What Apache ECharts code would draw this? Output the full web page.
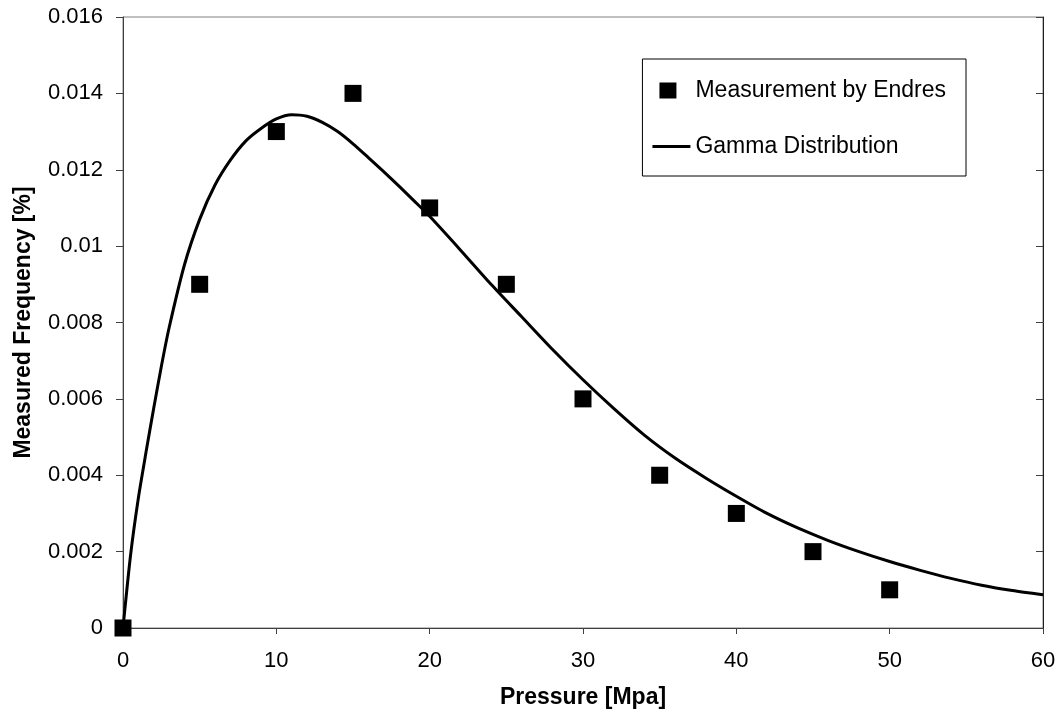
<!DOCTYPE html>
<html>
<head>
<meta charset="utf-8">
<script src="https://cdn.jsdelivr.net/npm/echarts@6/dist/echarts.min.js"></script>
<style>
html,body{margin:0;padding:0;background:#fff;}
#chart{width:1060px;height:719px;}
</style>
</head>
<body>
<div id="chart"></div>
<script>
// Measured points
const measX = [0, 5, 10, 15, 20, 25, 30, 35, 40, 45, 50];
const measY = [0, 0.009, 0.013, 0.014, 0.011, 0.009, 0.006, 0.004, 0.003, 0.002, 0.001];
// Gamma distribution curve
const gammaX = [0, 0.5, 1, 1.5, 2, 2.5, 3, 4, 5, 6, 7, 8, 9, 10, 11, 12, 13, 14, 15, 16, 17, 18, 19, 20, 22, 24, 26, 28, 30, 32, 34, 36, 38, 40, 42, 44, 46, 48, 50, 52, 54, 56, 58, 60];
const gammaY = [0, 0.00193, 0.0034, 0.0046, 0.00575, 0.00685, 0.00785, 0.0095, 0.0107, 0.0116, 0.01225, 0.01275, 0.01308, 0.01333, 0.01344, 0.0134, 0.01324, 0.0130, 0.01268, 0.01232, 0.01195, 0.01157, 0.01118, 0.01078, 0.0099, 0.0090, 0.00815, 0.0073, 0.0065, 0.00575, 0.00505, 0.00445, 0.00393, 0.00345, 0.0030, 0.00262, 0.00229, 0.0020, 0.00174, 0.00151, 0.0013, 0.00112, 0.00098, 0.00087];
const seriesNames = ['Measurement by Endres', 'Gamma Distribution'];
const xTitle = 'Pressure [Mpa]';
const yTitle = 'Measured Frequency [%]';

const FONT = "'Liberation Sans', Arial, sans-serif";
const chart = echarts.init(document.getElementById('chart'), null, {renderer: 'canvas'});
chart.setOption({
  animation: false,
  backgroundColor: '#fff',
  textStyle: {fontFamily: FONT},
  grid: {left: 123, right: 17, top: 17, bottom: 91, show: true, borderColor: '#808080', borderWidth: 1},
  legend: {
    orient: 'vertical',
    right: 94,
    top: 59,
    padding: [20, 20, 18, 10],
    itemGap: 33,
    itemWidth: 38,
    itemHeight: 16,
    borderColor: '#000',
    borderWidth: 1,
    backgroundColor: '#fff',
    textStyle: {fontFamily: FONT, fontSize: 23, color: '#000'},
    data: [
      {name: seriesNames[0], icon: 'path://M0,0L0,0M38,16L38,16M7,0L24,0L24,16L7,16Z', itemStyle: {color: '#000', opacity: 1, borderWidth: 0}},
      {name: seriesNames[1], icon: 'path://M0,0L0,0M38,16L38,16M0,6.5L38,6.5L38,9.5L0,9.5Z', itemStyle: {color: '#000', opacity: 1, borderWidth: 0}}
    ]
  },
  xAxis: {
    type: 'value', min: 0, max: 60, interval: 10,
    name: xTitle, nameLocation: 'middle', nameGap: 58,
    nameTextStyle: {fontFamily: FONT, fontSize: 23, fontWeight: 'bold', color: '#000'},
    axisLine: {show: true, onZero: false, lineStyle: {color: '#404040', width: 1}},
    axisTick: {show: true, inside: false, length: 6, lineStyle: {color: '#404040'}},
    axisLabel: {fontFamily: FONT, fontSize: 22, color: '#000', margin: 22},
    splitLine: {show: false}
  },
  yAxis: [{
    type: 'value', min: 0, max: 0.016, interval: 0.002,
    name: yTitle, nameLocation: 'middle', nameGap: 88, nameRotate: 90,
    nameTextStyle: {fontFamily: FONT, fontSize: 23, fontWeight: 'bold', color: '#000'},
    axisLine: {show: true, onZero: false, lineStyle: {color: '#404040', width: 1}},
    axisTick: {show: true, inside: false, length: 7, lineStyle: {color: '#404040'}},
    axisLabel: {fontFamily: FONT, fontSize: 22, color: '#000', margin: 20},
    splitLine: {show: false}
  }, {
    type: 'value', min: 0, max: 0.016, interval: 0.002, position: 'right',
    axisLine: {show: true, onZero: false, lineStyle: {color: '#202020', width: 1}},
    axisTick: {show: true, inside: true, length: 7, lineStyle: {color: '#404040'}},
    axisLabel: {show: false},
    splitLine: {show: false}
  }],
  series: [{
    name: seriesNames[1],
    type: 'line',
    data: gammaX.map((x, i) => [x, gammaY[i]]),
    showSymbol: false,
    symbol: 'none',
    smooth: 0.25,
    lineStyle: {color: '#000', width: 3},
    itemStyle: {color: '#000'},
    z: 2
  }, {
    name: seriesNames[0],
    type: 'scatter',
    data: measX.map((x, i) => [x, measY[i]]),
    symbol: 'rect',
    symbolSize: 17,
    itemStyle: {color: '#000', opacity: 1},
    z: 3
  }]
});
</script>
</body>
</html>
